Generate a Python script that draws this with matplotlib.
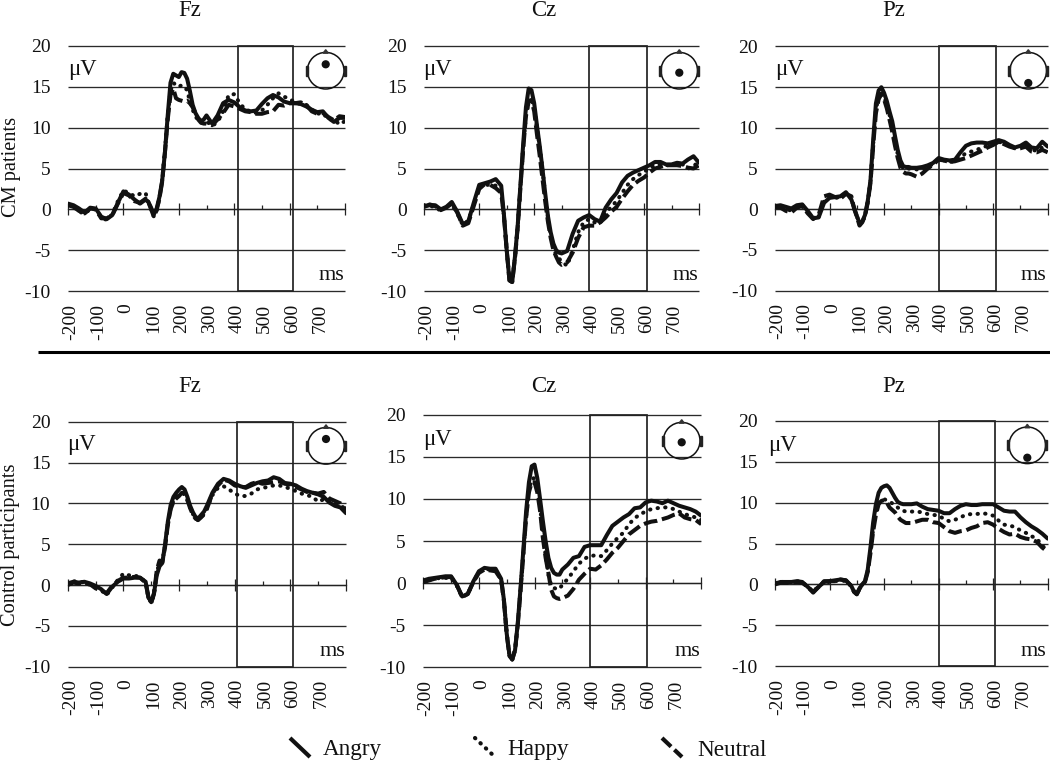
import matplotlib
matplotlib.use("Agg")
import matplotlib.pyplot as plt
from matplotlib.patches import Circle, Rectangle, Polygon
from matplotlib.transforms import ScaledTranslation

plt.rcParams['font.family'] = ['Liberation Serif', 'DejaVu Serif']
plt.rcParams['axes.unicode_minus'] = False

W, H = 1050, 761

# time points (ms), closer together around the peaks
time_ms = [-200, -180, -160, -140, -120, -100, -80, -60, -40, -20, 0, 20, 40, 60, 80,
           90, 100, 110, 120, 130, 140, 150, 160, 170, 180, 190, 200, 210, 220, 230, 240, 250, 260, 270, 280, 290, 300,
           320, 340, 360, 380, 400, 420, 440, 460, 480, 500, 520, 540, 560, 580, 600, 620, 640, 660, 680, 700, 720, 740, 760, 780, 800]

# CM patients
fz_cm_angry = [0.7, 0.5, 0.1, -0.4, 0.2, 0.1, -0.9, -1.2, -0.7, 0.8, 2.2, 1.8, 1.2, 0.7, 1.2,
               0.9, 0.2, -0.6, 0.1, 1.5, 3.5, 7, 11.5, 15.5, 16.6, 16.4, 16.2, 16.8, 16.7, 16, 14.5, 12.8, 11.8, 11.2, 10.8, 11, 11.5,
               10.5, 11.5, 13.0, 13.4, 13.1, 12.5, 12.1, 12.0, 12.1, 12.9, 13.6, 14, 13.7, 13.2, 13, 13, 12.9, 12.6, 12.2, 11.9, 12.0, 11.2, 10.7, 11.2, 11.2]
fz_cm_happy = [0.6, 0.3, -0.3, -0.5, 0.0, 0.0, -1.0, -1.3, -0.6, 1.0, 2.3, 2.0, 1.6, 1.9, 2.0,
               0.9, 0.0, -0.9, -0.1, 1.4, 3.6, 7.2, 11.5, 14.5, 15.5, 15.2, 15.0, 15.2, 15.0, 14.6, 13.2, 12.2, 11.4, 10.9, 10.6, 10.6, 10.8,
               10.2, 10.7, 12, 14, 14.1, 13, 12.2, 12, 11.8, 12.1, 12.8, 13.6, 14.2, 13.8, 13.5, 13.1, 12.9, 12.8, 12.2, 11.7, 11.8, 11, 11, 10.4, 10.8]
fz_cm_neutral = [0.5, 0.3, -0.2, -0.5, 0.1, 0.0, -1.1, -1.1, -0.7, 0.7, 2.0, 1.7, 1.0, 0.8, 1.3,
                 0.9, 0.0, -0.9, -0.1, 1.3, 3.4, 7, 11, 14, 14.8, 13.6, 13.4, 13.3, 13.2, 13.3, 13, 12.5, 11.8, 11, 10.6, 10.5, 10.5,
                 10.3, 11, 11.8, 12.8, 12.6, 12.3, 12, 11.9, 11.7, 11.7, 11.9, 12, 12.8, 12.7, 13, 13, 13.1, 12.8, 12.0, 11.7, 11.8, 11.3, 10.9, 11.4, 11.3]

cz_cm_angry = [0.4, 0.5, 0.5, 0.0, 0.3, 0.9, -0.3, -1.8, -1.5, 0.8, 3.0, 3.2, 3.4, 3.7, 2.9,
               -0.7, -5, -8.7, -8.9, -5.8, -2.0, 3, 8, 12.5, 14.8, 14.6, 13, 10.3, 7.8, 5, 2, -0.8, -2.8, -4.2, -5, -5.3, -5.4,
               -5.1, -3, -1.4, -1.0, -0.7, -1.2, -1.5, 0.2, 1.2, 2.0, 3.3, 4.1, 4.5, 4.8, 5.1, 5.4, 5.8, 5.8, 5.5, 5.5, 5.7, 5.6, 6.1, 6.5, 5.7]
cz_cm_happy = [0.5, 0.4, 0.3, -0.2, 0.3, 0.8, -0.5, -1.9, -1.4, 0.6, 2.7, 3.0, 3.0, 2.9, 2.2,
               -0.8, -5, -8.7, -8.9, -5.9, -2.1, 2.8, 7.6, 11.5, 13.3, 13.6, 12.3, 10, 7.6, 5, 1.8, -1, -3.2, -4.8, -5.6, -6, -6.4,
               -6.9, -5, -2.8, -1.6, -1.2, -1.6, -1.7, -0.5, 0.3, 1.0, 2.0, 3.0, 3.7, 4.2, 4.6, 5.0, 5.4, 5.5, 5.4, 5.4, 5.5, 5.5, 5.0, 5.2, 6.0]
cz_cm_neutral = [0.3, 0.6, 0.4, -0.1, 0.2, 0.7, -0.4, -2.0, -1.7, 0.4, 2.5, 3.1, 3.0, 2.6, 2.0,
                 -0.9, -5, -8.7, -8.9, -6, -2.2, 2.7, 7.4, 11.4, 13.2, 13.4, 12, 9.2, 6.6, 3.8, 1, -1.5, -3.5, -5, -5.8, -6.5, -6.8,
                 -6.5, -5.3, -3.5, -2.2, -2, -2, -1.6, -1.0, -0.3, 0.3, 1.3, 2.2, 3, 3.5, 3.9, 4.5, 5, 5.2, 5.4, 5.4, 5.4, 5.3, 5.1, 5.0, 5.4]

pz_cm_angry = [0.4, 0.5, 0.3, 0.1, 0.5, 0.6, -0.2, -1.1, -1.0, 0.8, 1.4, 1.5, 1.6, 2.1, 1.2,
               0.2, -0.8, -1.7, -1.5, -0.7, 1, 3.5, 8.5, 13, 14.6, 15, 14.3, 13.3, 12, 10.8, 9, 7.3, 6, 5.3, 5.2, 5.2, 5.1,
               5.1, 5.2, 5.4, 5.7, 6.3, 6.1, 6.0, 6.1, 7, 7.8, 8.1, 8.2, 8.2, 8.1, 8.3, 8.5, 8.3, 7.9, 7.6, 7.8, 8.2, 7.6, 7.5, 8.3, 7.7]
pz_cm_happy = [0.3, 0.4, 0.1, -0.2, 0.3, 0.5, -0.3, -1.2, -0.9, 1.0, 1.5, 1.4, 1.5, 2.0, 1.4,
               0.1, -0.8, -1.9, -1.6, -0.8, 0.9, 3.3, 8, 12.2, 13.9, 14.4, 13.8, 12.8, 11.6, 10.2, 8.3, 6.8, 5.7, 5.0, 4.9, 5.0, 5.0,
               4.9, 5, 5.2, 5.6, 6.2, 6, 5.8, 5.9, 6.4, 6.9, 7.1, 7.3, 7.6, 7.8, 8.1, 8.3, 8.1, 7.8, 7.5, 7.6, 7.9, 7.3, 7.2, 7.6, 7.3]
pz_cm_neutral = [0.3, 0.2, -0.2, -0.4, 0.2, 0.4, -0.5, -1.2, -0.7, 1.6, 1.8, 1.5, 1.3, 1.9, 1.6,
                 0.1, -0.9, -2.0, -1.6, -0.8, 0.8, 3.2, 7.8, 11.8, 13.5, 14.2, 13.5, 12.4, 11, 9.5, 7.8, 6.3, 5.1, 4.6, 4.4, 4.4, 4.3,
                 4, 4.4, 5, 5.5, 6.1, 6.0, 5.8, 5.9, 6.1, 6.3, 6.6, 6.9, 7.2, 7.6, 7.9, 8.3, 8.0, 7.7, 7.5, 7.5, 7.7, 7.1, 7.0, 7.3, 7.0]

# Control participants
fz_ctl_angry = [0.2, 0.4, 0.3, 0.4, 0.2, -0.1, -0.5, -1.1, -0.2, 0.4, 0.8, 0.8, 0.9, 0.9, 0.4,
                -1.5, -2.1, -1.0, 1.2, 2.3, 2.7, 5, 7.8, 9.8, 10.8, 11.3, 11.7, 12, 11.7, 10.8, 9.7, 8.9, 8.3, 8.2, 8.6, 9, 9.7,
                11.3, 12.4, 13, 12.8, 12.4, 12.1, 11.9, 12.2, 12.5, 12.7, 12.8, 13.2, 13, 12.5, 12.4, 12.2, 11.8, 11.5, 11.3, 11.1, 10.8, 10.1, 9.7, 9.5, 8.8]
fz_ctl_happy = [0.1, 0.5, 0.3, 0.4, 0.0, -0.3, -0.6, -1.2, -0.3, 0.6, 1.4, 1.2, 1.2, 0.9, 0.4,
                -1.5, -2.2, -1.1, 1.5, 2.8, 2.9, 4.9, 7.5, 9.4, 10.3, 10.8, 11, 11.3, 11.1, 10.4, 9.5, 8.7, 8.1, 7.9, 8.2, 8.7, 9.4,
                11, 11.9, 12.1, 11.7, 11.2, 10.9, 10.9, 11.2, 11.7, 11.9, 12, 12.2, 12.2, 12, 11.8, 11.5, 11.2, 11, 10.8, 10.2, 10.5, 10.4, 10, 9.8, 9.2]
fz_ctl_neutral = [0.0, 0.3, 0.2, 0.3, 0.1, -0.4, -0.7, -1.0, -0.1, 0.5, 0.9, 0.9, 1.0, 0.9, 0.3,
                  -1.5, -2.2, -1.1, 1.8, 3.0, 2.8, 4.7, 7.4, 9.3, 10.2, 10.6, 10.9, 11.3, 11.2, 10.4, 9.4, 8.6, 8.1, 8.0, 8.3, 8.8, 9.3,
                  11.2, 12.2, 12.9, 12.7, 12.2, 12, 12, 12.4, 12.6, 12.4, 12.5, 12.6, 12.7, 12.4, 12.3, 12, 11.7, 11.4, 11.3, 11.2, 11.4, 10.6, 10.3, 10, 9.2]

cz_ctl_angry = [0.3, 0.5, 0.6, 0.7, 0.8, 0.8, -0.2, -1.6, -1.3, 0.2, 1.4, 1.8, 1.7, 1.7, 0.5,
                -2, -6, -8.6, -9.1, -8, -4.7, -0.5, 4, 8.6, 12, 13.9, 14.1, 12.5, 10, 7.4, 5, 3, 1.8, 1.2, 1, 1, 1.6,
                2.2, 3, 3.2, 4.3, 4.5, 4.5, 4.5, 5.7, 6.8, 7.3, 7.8, 8.2, 8.9, 9, 9.6, 9.8, 9.7, 9.5, 9.8, 9.5, 9.2, 9, 8.8, 8.5, 8]
cz_ctl_happy = [0.2, 0.4, 0.5, 0.6, 0.6, 0.6, -0.3, -1.7, -1.3, 0.1, 1.3, 1.7, 1.6, 1.5, 0.4,
                -2.1, -6, -8.7, -9.1, -8, -4.8, -0.7, 3.6, 8, 11, 12.4, 12.5, 11.4, 9, 6.2, 3.2, 1, -0.3, -0.6, -0.7, -0.7, -0.2,
                0.5, 1.4, 2.3, 2.9, 3.2, 3.3, 3.2, 3.9, 4.7, 5.4, 6, 7, 7.7, 8.2, 8.5, 8.8, 8.9, 9, 9, 8.8, 8.5, 8.2, 8, 7.8, 7.5]
cz_ctl_neutral = [0.1, 0.3, 0.5, 0.6, 0.7, 0.7, -0.2, -1.7, -1.3, 0.1, 1.2, 1.6, 1.5, 1.4, 0.4,
                  -2.1, -6.1, -8.7, -9.1, -8, -4.9, -0.8, 3.5, 7.8, 10.8, 12, 12, 10.8, 8.6, 5.4, 3, 1.2, -0.8, -1.6, -1.8, -1.9, -1.8,
                  -1.5, -0.7, 0.4, 1.1, 1.7, 1.6, 2.1, 2.8, 3.6, 4.2, 5, 5.8, 6.3, 6.8, 7.1, 7.3, 7.4, 7.6, 7.8, 8.1, 8.3, 7.8, 7.6, 7.5, 7.0]

pz_ctl_angry = [0.1, 0.3, 0.3, 0.3, 0.4, 0.3, -0.3, -0.9, -0.3, 0.3, 0.4, 0.5, 0.6, 0.5, -0.2,
                -0.9, -1.2, -0.5, 0.0, 0.4, 1.8, 4.5, 7.6, 9.8, 11.2, 11.8, 12, 12.1, 11.8, 11.2, 10.6, 10.1, 9.9, 9.8, 9.8, 9.8, 9.8,
                9.9, 9.5, 9.2, 9.1, 9, 8.7, 8.7, 9.2, 9.6, 9.8, 9.7, 9.7, 9.8, 9.8, 9.8, 9.4, 9, 8.9, 8.9, 8.2, 7.6, 7.1, 6.7, 6.2, 5.6]
pz_ctl_happy = [0.2, 0.3, 0.3, 0.3, 0.4, 0.3, -0.3, -0.9, -0.2, 0.3, 0.3, 0.4, 0.5, 0.4, -0.2,
                -0.9, -1.2, -0.5, 0, 0.4, 1.6, 4, 6.8, 8.8, 10, 10.3, 10.4, 10.3, 10.1, 9.9, 9.7, 9.4, 9.1, 9, 8.9, 8.9, 8.9,
                8.9, 8.8, 8.6, 8.5, 8.4, 8.0, 7.7, 7.9, 8.2, 8.5, 8.6, 8.6, 8.7, 8.6, 8.4, 7.8, 7.3, 7.2, 7, 6.6, 6.3, 5.9, 5.6, 4.7, 4.2]
pz_ctl_neutral = [0.0, 0.2, 0.2, 0.2, 0.3, 0.2, -0.3, -1.0, -0.3, 0.4, 0.4, 0.4, 0.6, 0.5, -0.2,
                  -0.9, -1.2, -0.5, 0, 0.3, 1.5, 3.8, 6.5, 8.5, 9.8, 10.2, 10.3, 10, 9.4, 9.1, 8.8, 8.3, 7.9, 7.7, 7.5, 7.5, 7.5,
                  7.7, 7.9, 7.9, 7.6, 7.5, 7, 6.5, 6.3, 6.5, 6.6, 6.9, 7.1, 7.5, 7.6, 7.3, 6.8, 6.4, 6.1, 6.2, 5.8, 5.6, 5.5, 5.2, 4.5, 4]

y_ticks = [-10, -5, 0, 5, 10, 15, 20]
x_labels = [-200, -100, 0, 100, 200, 300, 400, 500, 600, 700]

LW = 2.9
DOT = (0, (0.1, 1.8))
DASH = (0, (3.4, 1.2))


def to_fig(left, right, top, bottom):
    return [left / W, 1 - bottom / H, (right - left) / W, (bottom - top) / H]


def panel(pos, curves, box, title, title_xy, uv_xy, ms_y, head, dot_y):
    ax = fig.add_axes(to_fig(*pos))
    ax.patch.set_alpha(0)
    ax.set_xlim(-200, 800)
    ax.set_ylim(-10, 20)
    ax.hlines(y_ticks, -200, 800, color='#2a2a2a', lw=0.95, clip_on=False, zorder=1)
    ax.add_patch(Rectangle((box[0], -10), box[1] - box[0], 30, fill=False, ec='#222222', lw=1.25,
                           clip_on=False, zorder=2))
    # neutral and happy go under the solid line
    ax.plot(time_ms, curves[2], color='#111111', lw=LW, ls=DASH, zorder=3)
    ax.plot(time_ms, curves[1], color='#111111', lw=LW, ls=DOT, dash_capstyle='round', zorder=3)
    ax.plot(time_ms, curves[0], color='#111111', lw=LW, solid_capstyle='round', zorder=4)

    for s in ['top', 'left', 'right']:
        ax.spines[s].set_visible(False)
    ax.spines['bottom'].set_position(('data', 0))
    ax.spines['bottom'].set_linewidth(0.9)
    ax.spines['bottom'].set_color('#222222')
    ax.set_xticks([-200, 0, 200, 400, 600, 800])
    ax.set_xticks([-100, 100, 300, 500, 700], minor=True)
    ax.set_xticklabels([])
    ax.tick_params(axis='x', which='major', direction='inout', length=9, width=0.9, color='#222222')
    ax.tick_params(axis='x', which='minor', direction='in', length=3, width=0.9, color='#222222')
    ax.set_yticks(y_ticks)
    ax.tick_params(axis='y', length=0, pad=12.5, labelsize=14, labelcolor='#111111')

    # tick labels sit under the plot, not at the zero line
    sec = ax.secondary_xaxis('bottom')
    sec.spines['bottom'].set_visible(False)
    sec.set_xticks(x_labels)
    sec.set_xticklabels([str(v) for v in x_labels], rotation=90, fontsize=14, color='#111111')
    sec.tick_params(axis='x', length=0, pad=9)
    for lab in sec.get_xticklabels():
        lab.set_transform(lab.get_transform() + ScaledTranslation(2 / 72, 0, fig.dpi_scale_trans))

    over.text(title_xy[0], title_xy[1], title, fontsize=16.5, ha='center', va='baseline', color='#111111')
    over.text(uv_xy[0], uv_xy[1], 'μV', fontsize=16.3, ha='left', va='center', color='#111111')
    over.text(pos[1] - 1, ms_y, 'ms', fontsize=16, ha='right', va='center', color='#111111')

    # head icon
    hx, hy = head
    over.add_patch(Circle((hx, hy), 18.3, fill=False, ec='#111111', lw=1.1))
    over.add_patch(Circle((hx, dot_y), 3.4, color='#111111'))
    over.add_patch(Polygon([(hx - 2.5, hy - 17.5), (hx, hy - 21), (hx + 2.5, hy - 17.5)], color='#333333'))
    over.add_patch(Rectangle((hx - 20, hy - 5), 2, 10, color='#222222'))
    over.add_patch(Rectangle((hx + 18, hy - 5), 2, 10, color='#222222'))


fig = plt.figure(figsize=(W / 100, H / 100), dpi=100)
over = fig.add_axes([0, 0, 1, 1], zorder=5)
over.set_xlim(0, W)
over.set_ylim(H, 0)
over.axis('off')

panel((68, 345, 46, 291), [fz_cm_angry, fz_cm_happy, fz_cm_neutral], (412, 614), 'Fz', (190, 16.5), (68, 70), 275, (325.7, 70.7), 64.3)
panel((424.3, 699, 46, 291), [cz_cm_angry, cz_cm_happy, cz_cm_neutral], (400, 610), 'Cz', (544, 16.5), (423, 70), 275, (679.3, 70.7), 72.7)
panel((775, 1047.7, 46.5, 290.7), [pz_cm_angry, pz_cm_happy, pz_cm_neutral], (402, 611), 'Pz', (894, 16.5), (775, 70), 275, (1028.3, 70.7), 83)
panel((67.7, 346, 421.7, 666.7), [fz_ctl_angry, fz_ctl_happy, fz_ctl_neutral], (410, 611), 'Fz', (190, 392.5), (67, 444.7), 651, (326, 445.8), 439)
panel((423.3, 701.3, 415, 667), [cz_ctl_angry, cz_ctl_happy, cz_ctl_neutral], (400, 605), 'Cz', (544, 392.5), (423, 440), 652, (681.7, 440.7), 442.3)
panel((775, 1047.7, 420.7, 666.3), [pz_ctl_angry, pz_ctl_happy, pz_ctl_neutral], (400, 605), 'Pz', (894, 392.5), (768, 445), 651, (1027.3, 445.3), 457.7)

over.text(11.5, 167, 'CM patients', rotation=90, fontsize=14.7, ha='center', va='center', color='#111111')
over.text(10.5, 545, 'Control participants', rotation=90, fontsize=14.7, ha='center', va='center', color='#111111')

# separator between the groups
over.plot([38, 1050], [352, 352], color='black', lw=2.2, solid_capstyle='butt')

# legend
over.plot([290, 310], [738, 757], color='#111111', lw=3, solid_capstyle='butt')
over.plot([475, 495], [738, 757], color='#111111', lw=3, ls=(0, (0.1, 1.7)), dash_capstyle='round')
over.plot([662, 682], [738, 757], color='#111111', lw=3, ls=(0, (3, 1.1)), dash_capstyle='butt')
over.text(323, 750, 'Angry', fontsize=16.7, ha='left', va='center', color='#111111')
over.text(507, 750, 'Happy', fontsize=16.7, ha='left', va='center', color='#111111')
over.text(697, 750, 'Neutral', fontsize=16.7, ha='left', va='center', color='#111111')

fig.savefig('out.png', dpi=100)
